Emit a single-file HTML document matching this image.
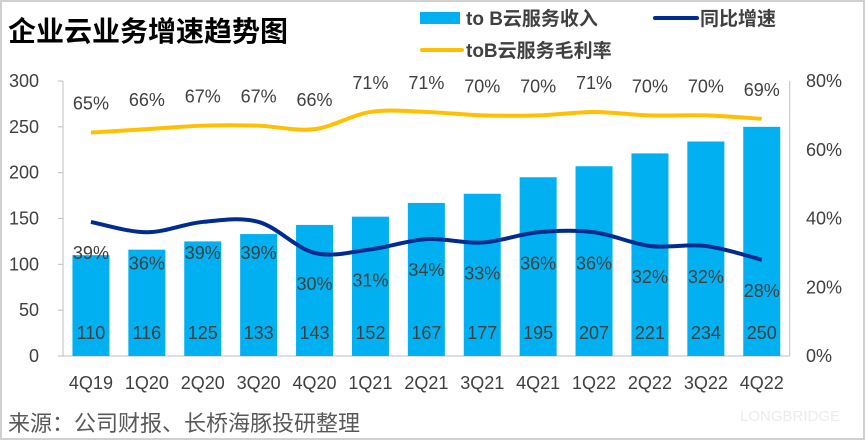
<!DOCTYPE html>
<html><head><meta charset="utf-8"><style>
body{margin:0;background:#fff;}
#c{position:relative;width:865px;height:440px;overflow:hidden;font-family:"Liberation Sans","Noto Sans CJK SC",sans-serif;}
svg text{font-family:"Liberation Sans","Noto Sans CJK SC",sans-serif;}
</style></head><body>
<div id="c">
<svg id="s" width="865" height="440" xmlns="http://www.w3.org/2000/svg">
<rect x="1" y="1" width="863" height="438" fill="#fff" stroke="#d0d0d0" stroke-width="2"/>
<text x="8" y="41" font-size="28" font-weight="bold" fill="#000">企业云业务增速趋势图</text>
<rect x="420" y="12" width="40" height="12" fill="#00b0f0"/>
<text x="466" y="25" font-size="19" font-weight="bold" fill="#404040">to B云服务收入</text>
<line x1="655" y1="18" x2="697" y2="18" stroke="#002b8f" stroke-width="4" stroke-linecap="round"/>
<text x="700" y="25" font-size="19" font-weight="bold" fill="#404040">同比增速</text>
<line x1="422" y1="50" x2="462" y2="50" stroke="#ffc000" stroke-width="4" stroke-linecap="round"/>
<text x="466" y="57" font-size="19" font-weight="bold" fill="#404040">toB云服务毛利率</text>
<text x="8" y="431" font-size="22" fill="#595959">来源：公司财报、长桥海豚投研整理</text>
<text x="740" y="421" font-size="15" fill="#ececec">LONGBRIDGE</text>
<g id="g"></g>
</svg>
</div>
<script>
const categories=["4Q19","1Q20","2Q20","3Q20","4Q20","1Q21","2Q21","3Q21","4Q21","1Q22","2Q22","3Q22","4Q22"];
const revenue=[110,116,125,133,143,152,167,177,195,207,221,234,250];
const growth=[39,36,39,39,30,31,34,33,36,36,32,32,28];
const margin=[65,66,67,67,66,71,71,70,70,71,70,70,69];
const leftTicks=[0,50,100,150,200,250,300];
const rightTicks=[0,20,40,60,80];
const NS="http://www.w3.org/2000/svg";
const g=document.getElementById('g');
const X0=63,STEP=55.9,Y0=356,YT=81;
const xc=i=>X0+STEP*(i+0.5);
const yl=v=>Y0-(v/300)*(Y0-YT);
const yr=v=>Y0-(v/80)*(Y0-YT);
function mk(t,a,txt){const e=document.createElementNS(NS,t);for(const k in a)e.setAttribute(k,a[k]);if(txt!==undefined)e.textContent=txt;g.appendChild(e);return e;}
let e;
e=mk('line',{x1:X0,y1:YT,x2:X0,y2:Y0,stroke:'#bfbfbf'});


e=mk('line',{x1:X0,y1:Y0,x2:X0+STEP*13,y2:Y0,stroke:'#bfbfbf'});


e=mk('line',{x1:X0+STEP*13,y1:YT,x2:X0+STEP*13,y2:Y0,stroke:'#bfbfbf'});


leftTicks.forEach(v=>{
 mk('line',{x1:X0-5,y1:yl(v),x2:X0,y2:yl(v),stroke:'#bfbfbf'});
 e=mk('text',{x:39,y:yl(v)+6,'font-size':18,fill:'#404040','text-anchor':'end'},v);
 
 
});
rightTicks.forEach(v=>{
 e=mk('text',{x:806,y:yr(v)+6,'font-size':18,fill:'#404040'},v+'%');
 
 
});
categories.forEach((c,i)=>{
 e=mk('rect',{x:xc(i)-18.5,y:yl(revenue[i]),width:37,height:Y0-yl(revenue[i]),fill:'#00b0f0'});
 
 
 e=mk('text',{x:xc(i),y:339,'font-size':18,fill:'#404040','text-anchor':'middle'},revenue[i]);
 
 
 e=mk('text',{x:xc(i),y:389,'font-size':18,fill:'#404040','text-anchor':'middle'},c);
 
 
});
function smooth(pts){let d='M'+pts[0][0]+','+pts[0][1];for(let i=0;i<pts.length-1;i++){const p0=pts[Math.max(i-1,0)],p1=pts[i],p2=pts[i+1],p3=pts[Math.min(i+2,pts.length-1)];const c1x=p1[0]+(p2[0]-p0[0])/6,c1y=p1[1]+(p2[1]-p0[1])/6,c2x=p2[0]-(p3[0]-p1[0])/6,c2y=p2[1]-(p3[1]-p1[1])/6;d+=' C'+c1x+','+c1y+' '+c2x+','+c2y+' '+p2[0]+','+p2[1];}return d;}
e=mk('path',{d:smooth(margin.map((v,i)=>[xc(i),yr(v)])),fill:'none',stroke:'#ffc000','stroke-width':4});


e=mk('path',{d:smooth(growth.map((v,i)=>[xc(i),yr(v)])),fill:'none',stroke:'#002b8f','stroke-width':4});


margin.forEach((v,i)=>{
 e=mk('text',{x:xc(i),y:yr(v)-23,'font-size':18,fill:'#404040','text-anchor':'middle'},v+'%');
 
 
});
growth.forEach((v,i)=>{
 e=mk('text',{x:xc(i),y:yr(v)+37,'font-size':18,fill:'#404040','text-anchor':'middle'},v+'%');
 
 
});
</script>
</body></html>
